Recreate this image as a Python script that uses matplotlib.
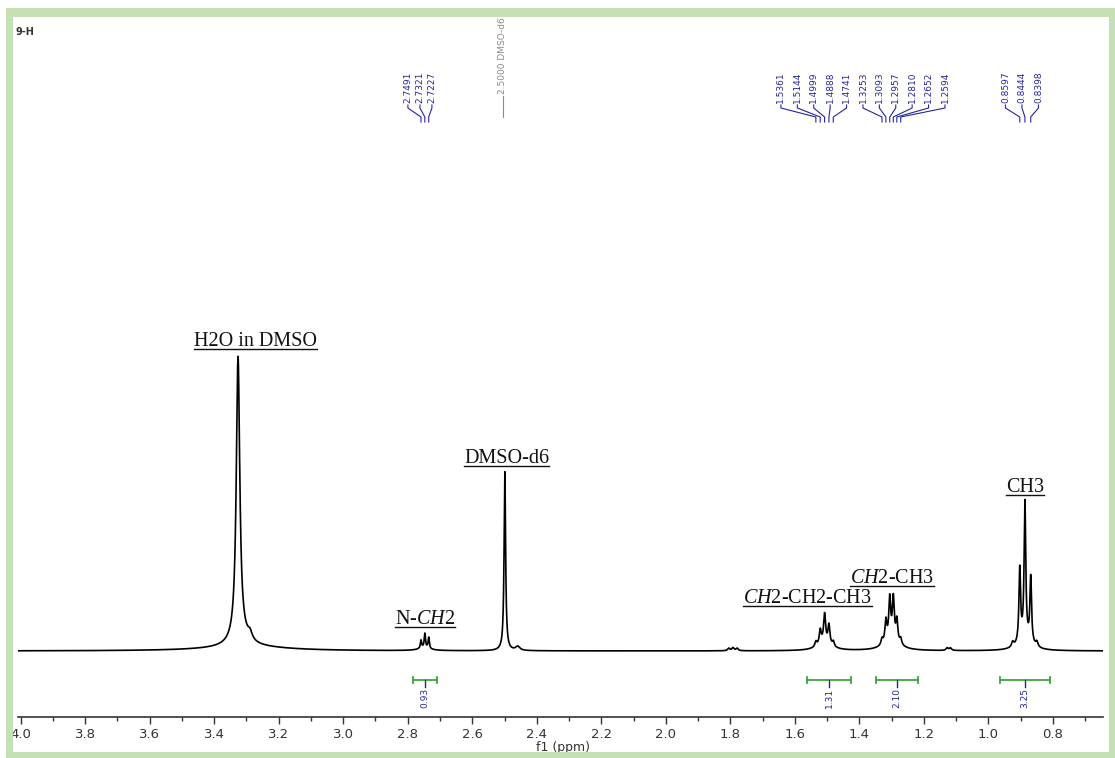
import matplotlib
matplotlib.use('Agg')
import matplotlib.pyplot as plt
import numpy as np
from matplotlib.patches import Rectangle
from matplotlib.lines import Line2D
from matplotlib.ticker import MultipleLocator, FormatStrFormatter

plt.rcParams['mathtext.fontset'] = 'custom'
plt.rcParams['mathtext.rm'] = 'Liberation Serif'
plt.rcParams['mathtext.it'] = 'Liberation Serif:italic'

# multiplet lines (ppm, height above baseline in px)
nch2_ppm = [2.759, 2.747, 2.735]
nch2_h = [8, 14, 11]
quint_ppm = [1.535, 1.5215, 1.508, 1.4945, 1.481]
quint_h = [5, 14, 28, 19, 5]
sext_ppm = [1.330, 1.318, 1.306, 1.295, 1.284, 1.272]
sext_h = [6, 22, 42, 42, 22, 6]
ch3_ppm = [0.903, 0.887, 0.869]
ch3_h = [74, 138, 66]
line_hw = [0.0022, 0.0035, 0.0035, 0.003]

# singlets, shoulders and broad bases (ppm, height, half width)
other_ppm = [3.326, 3.318, 3.289, 3.30, 2.748, 2.499, 2.459, 1.805, 1.792, 1.779,
             1.508, 1.30, 1.128, 1.118, 0.925, 0.85, 0.887]
other_h = [284, 7, 7, 4, 3, 179, 4, 2.5, 3, 2.5, 8, 9, 2.5, 2.5, 5, 5, 9]
other_hw = [0.0065, 0.03, 0.008, 0.15, 0.02, 0.0028, 0.008, 0.004, 0.004, 0.004,
            0.025, 0.03, 0.004, 0.004, 0.004, 0.004, 0.025]

# peak picking labels
pick_nch2 = ['2.7491', '2.7321', '2.7227']
pick_mid = ['1.5361', '1.5144', '1.4999', '1.4888', '1.4741', '1.3253',
            '1.3093', '1.2957', '1.2810', '1.2652', '1.2594']
pick_ch3 = ['0.8597', '0.8444', '0.8398']

# integrals
int_from = [2.785, 1.562, 1.348, 0.964]
int_to = [2.71, 1.426, 1.218, 0.809]
int_val = ['0.93', '1.31', '2.10', '3.25']

# assignments
assign_text = ['H2O in DMSO', r'N-$\mathit{CH2}$', 'DMSO-d6',
               r'$\mathit{CH2}$-CH2-CH3', r'$\mathit{CH2}$-CH3', 'CH3']
assign_ppm = [3.271, 2.747, 2.493, 1.560, 1.299, 0.887]
assign_y = [305, 27, 188, 48, 68, 159]

W, H = 1115, 758
blue = '#25259c'
green = '#3da63d'


def px2ppm(px):
    return 4.0 - (px - 20.7) / 322.6


def lorentz(x, x0, h, w):
    return h * w ** 2 / ((x - x0) ** 2 + w ** 2)


ppm = np.linspace(4.02, 0.64, 30000)
spec = np.zeros_like(ppm)
groups = [(nch2_ppm, nch2_h), (quint_ppm, quint_h), (sext_ppm, sext_h), (ch3_ppm, ch3_h)]
for (pp, hh), hw in zip(groups, line_hw):
    for p, h in zip(pp, hh):
        spec += lorentz(ppm, p, h, hw)
for p, h, hw in zip(other_ppm, other_h, other_hw):
    spec += lorentz(ppm, p, h, hw)

fig = plt.figure(figsize=(W / 100, H / 100), dpi=100)
ax = fig.add_axes([18 / W, (H - 717) / H, (1103 - 18) / W, (717 - 20) / H])
ax.plot(ppm, spec, color='black', lw=1.2)
ax.set_xlim(4.008, 0.645)
ax.set_ylim(-66, 631)

for s in ['top', 'right', 'left']:
    ax.spines[s].set_visible(False)
ax.spines['bottom'].set_color('#333333')
ax.spines['bottom'].set_linewidth(1.2)
ax.set_yticks([])
ax.xaxis.set_major_locator(MultipleLocator(0.2))
ax.xaxis.set_minor_locator(MultipleLocator(0.1))
ax.xaxis.set_major_formatter(FormatStrFormatter('%.1f'))
ax.tick_params(axis='x', which='major', length=5, width=1, colors='#333333',
               labelsize=9.5, pad=3)
ax.tick_params(axis='x', which='minor', length=3, width=1, colors='#333333')

# peak picking labels with connectors
pick_groups = [
    (pick_nch2, 420, 12, nch2_ppm),
    (pick_mid, 863, 16.4, quint_ppm + sext_ppm),
    (pick_ch3, 1022, 16.5, ch3_ppm),
]
for labels, cx, step, ends in pick_groups:
    n = len(labels)
    for i, (lab, end) in enumerate(zip(labels, ends)):
        lx = px2ppm(cx + (i - (n - 1) / 2) * step)
        ax.text(lx, 548, lab, rotation=90, ha='center', va='bottom', fontsize=6.5,
                color=blue, family=['Liberation Sans Narrow', 'DejaVu Sans'])
        ax.plot([lx, lx, end, end], [546, 543, 534, 529], color=blue, lw=0.8)

dx = px2ppm(503)
ax.text(dx, 557, '2.5000 DMSO-d6', rotation=90, ha='center', va='bottom', fontsize=6.5,
        color='#8a8a8a', family=['Liberation Sans Narrow', 'DejaVu Sans'])
ax.plot([dx, dx], [555, 534], color='#8a8a8a', lw=0.8)

# integrals
for a, b, v in zip(int_from, int_to, int_val):
    ax.plot([a, b], [-29, -29], color=green, lw=1.3)
    ax.plot([a, a], [-26, -32], color=green, lw=1.3)
    ax.plot([b, b], [-26, -32], color=green, lw=1.3)
    mid = (a + b) / 2
    ax.plot([mid, mid], [-29, -36], color=blue, lw=1)
    ax.text(mid, -37, v, rotation=90, ha='center', va='top', fontsize=6.5, color=blue,
            family=['Liberation Sans Narrow', 'DejaVu Sans'])

# assignments (underlined)
assign_objs = []
for t, x, y in zip(assign_text, assign_ppm, assign_y):
    assign_objs.append(ax.text(x, y, t, ha='center', va='baseline', fontsize=14.5,
                               family='Liberation Serif', color='#111111'))

fig.text(16 / W, 1 - 32 / H, '9-H', fontsize=7, weight='bold', ha='left', va='center',
         color='#333333')
fig.text(563 / W, 1 - 748 / H, 'f1 (ppm)', fontsize=9, ha='center', va='center',
         color='#333333')

fig.canvas.draw()
renderer = fig.canvas.get_renderer()
for t in assign_objs:
    bb = t.get_window_extent(renderer)
    yb = ax.transData.transform((0, t.get_position()[1]))[1] - 2.5
    fig.add_artist(Line2D([bb.x0 / W, bb.x1 / W], [yb / H, yb / H],
                          transform=fig.transFigure, color='#111111', lw=1))

# light green frame
frame = '#c5e0b4'
for x0, y0, x1, y1 in [(6, 8, 1115, 17), (6, 8, 13, 758), (6, 752, 1115, 758), (1109, 8, 1115, 758)]:
    fig.add_artist(Rectangle((x0 / W, 1 - y1 / H), (x1 - x0) / W, (y1 - y0) / H,
                             transform=fig.transFigure, facecolor=frame, edgecolor='none',
                             zorder=10))

fig.savefig('out.png', dpi=100)
